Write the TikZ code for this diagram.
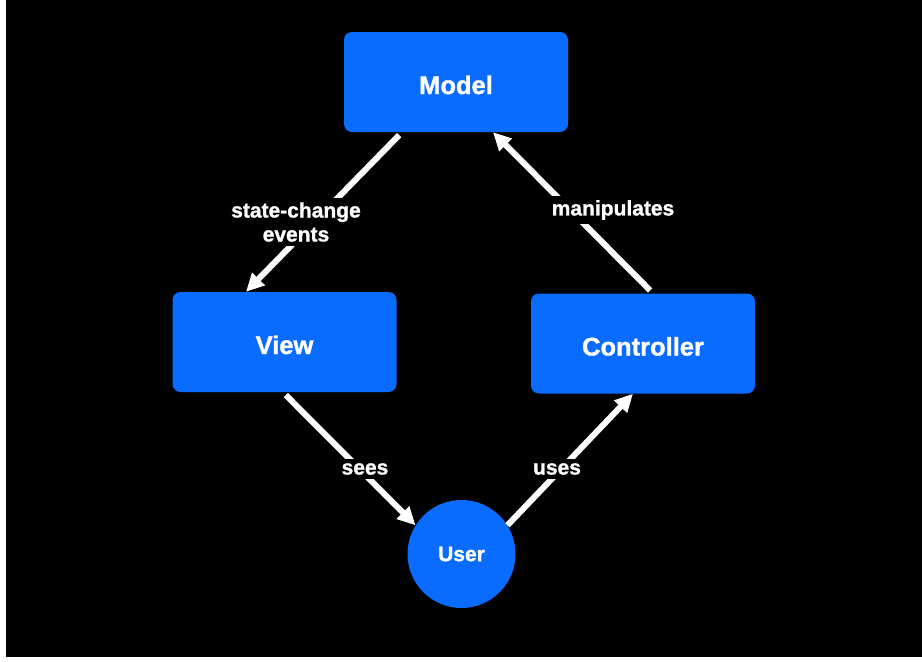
\documentclass[tikz,border=0pt]{standalone}
\usepackage{fontspec}
\setmainfont{Liberation Sans}[BoldFeatures={FakeBold=1.2}]
\usetikzlibrary{arrows.meta}
\definecolor{mvcblue}{RGB}{10,108,255}
\begin{document}
\begin{tikzpicture}[x=1pt,y=-1pt,
  box/.style={fill=mvcblue, rounded corners=8pt, minimum width=224pt, minimum height=100pt, text=white, font=\bfseries\fontsize{25.5}{30}\selectfont, inner sep=0pt, text height=24pt, text depth=0pt},
  usr/.style={circle, fill=mvcblue, minimum size=108pt, inner sep=0pt, text=white, font=\bfseries\fontsize{21}{25}\selectfont},
  arr/.style={draw=white, line width=6pt, -{Triangle[length=18pt,width=17pt]}, shorten <=4pt},
  lbl/.style={fill=black, text=white, font=\bfseries\fontsize{21}{24}\selectfont, align=center, inner sep=4pt}]
  \useasboundingbox (0,0) rectangle (922,662);
  \fill[white] (0,0) rectangle (922,662);
  \fill[black] (6,0) rectangle (922,657);

  \node[box] (model) at (456,82) {Model};
  \node[box] (view) at (284.5,342) {View};
  \node[box] (ctrl) at (643,343.5) {Controller};
  \node[usr] (user) at (461.5,554) {User};

  \draw[arr] ([xshift=-54pt]model.south) -- ([xshift=-38.5pt]view.north);
  \draw[arr] ([xshift=10pt]ctrl.north) -- ([xshift=37pt]model.south);
  \draw[arr] ([xshift=-1.5pt]view.south) -- (user.148);
  \draw[arr, shorten <=0pt] (user.32) -- ([xshift=-10pt]ctrl.south);

  \node[lbl] (l1) at (296,222) {state-change\\events};
  \node[lbl] (l2) at (613,210) {manipulates};
  \node[lbl] (l3) at (365,469) {sees};
  \node[lbl] (l4) at (557,469) {uses};
\end{tikzpicture}
\end{document}
